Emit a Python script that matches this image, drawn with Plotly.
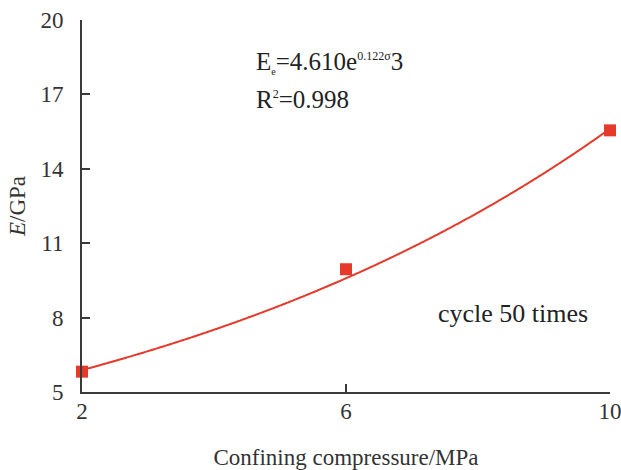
import numpy as np
import plotly.graph_objects as go

# Measured elastic modulus at each confining pressure
confining_mpa = [2, 6, 10]
modulus_gpa = [5.82, 9.95, 15.55]

# Exponential fit  E = a * exp(b * sigma3)
fit_a = 4.610
fit_b = 0.122
fit_r2 = 0.998

x_ticks = [2, 6, 10]
y_ticks = [5, 8, 11, 14, 17, 20]

red = "#e53a2b"
axis_col = "#3a3a3a"
font_family = "Liberation Serif, Times New Roman, serif"

sigma = np.linspace(min(confining_mpa), max(confining_mpa), 300)
fit_curve = fit_a * np.exp(fit_b * sigma)

fig = go.Figure()
fig.add_trace(go.Scatter(
    x=sigma, y=fit_curve, mode="lines",
    line=dict(color=red, width=2, shape="spline"), cliponaxis=False, showlegend=False,
))
fig.add_trace(go.Scatter(
    x=confining_mpa, y=modulus_gpa, mode="markers",
    marker=dict(symbol="square", size=12, color=red, line=dict(width=0)),
    cliponaxis=False, showlegend=False,
))

fig.update_layout(
    width=621, height=470,
    margin=dict(l=82, r=11, t=20, b=78),
    paper_bgcolor="white", plot_bgcolor="white",
    font=dict(family=font_family, size=23, color="#333333"),
    xaxis=dict(
        range=[2, 10], tickvals=x_ticks, ticktext=[str(v) for v in x_ticks],
        showgrid=False, zeroline=False, showline=True, linecolor=axis_col, linewidth=2,
        ticks="inside", ticklen=8, tickwidth=2, tickcolor=axis_col,
        tickfont=dict(size=23), ticklabelstandoff=-3, ticklabeloverflow="allow",
        automargin=False,
        title=dict(text="Confining compressure/MPa", font=dict(size=23), standoff=48),
    ),
    yaxis=dict(
        range=[5, 20], tickvals=y_ticks, ticktext=[str(v) for v in y_ticks],
        showgrid=False, zeroline=False, showline=True, linecolor=axis_col, linewidth=2,
        ticks="inside", ticklen=8, tickwidth=2, tickcolor=axis_col,
        tickfont=dict(size=23), ticklabelstandoff=12, automargin=False,
        title=dict(text="<i>E</i>/GPa", font=dict(size=23), standoff=8),
    ),
    annotations=[
        dict(
            x=0.325, y=0.887, xref="paper", yref="paper", xanchor="left", yanchor="middle",
            text=f"E<sub><span style='font-size:10px'>e</span></sub>={fit_a:.3f}e"
                 f"<sup><span style='font-size:12px'>{fit_b:.3f}σ</span></sup>3",
            showarrow=False, font=dict(size=25, color="#222222"),
        ),
        dict(
            x=0.325, y=0.785, xref="paper", yref="paper", xanchor="left", yanchor="middle",
            text=f"R<sup><span style='font-size:12px'>2</span></sup>={fit_r2:.3f}",
            showarrow=False, font=dict(size=25, color="#222222"),
        ),
        dict(
            x=0.67, y=0.21, xref="paper", yref="paper", xanchor="left", yanchor="middle",
            text="cycle 50 times",
            showarrow=False, font=dict(size=26, color="#222222"),
        ),
    ],
)

fig.write_html("out.html")
